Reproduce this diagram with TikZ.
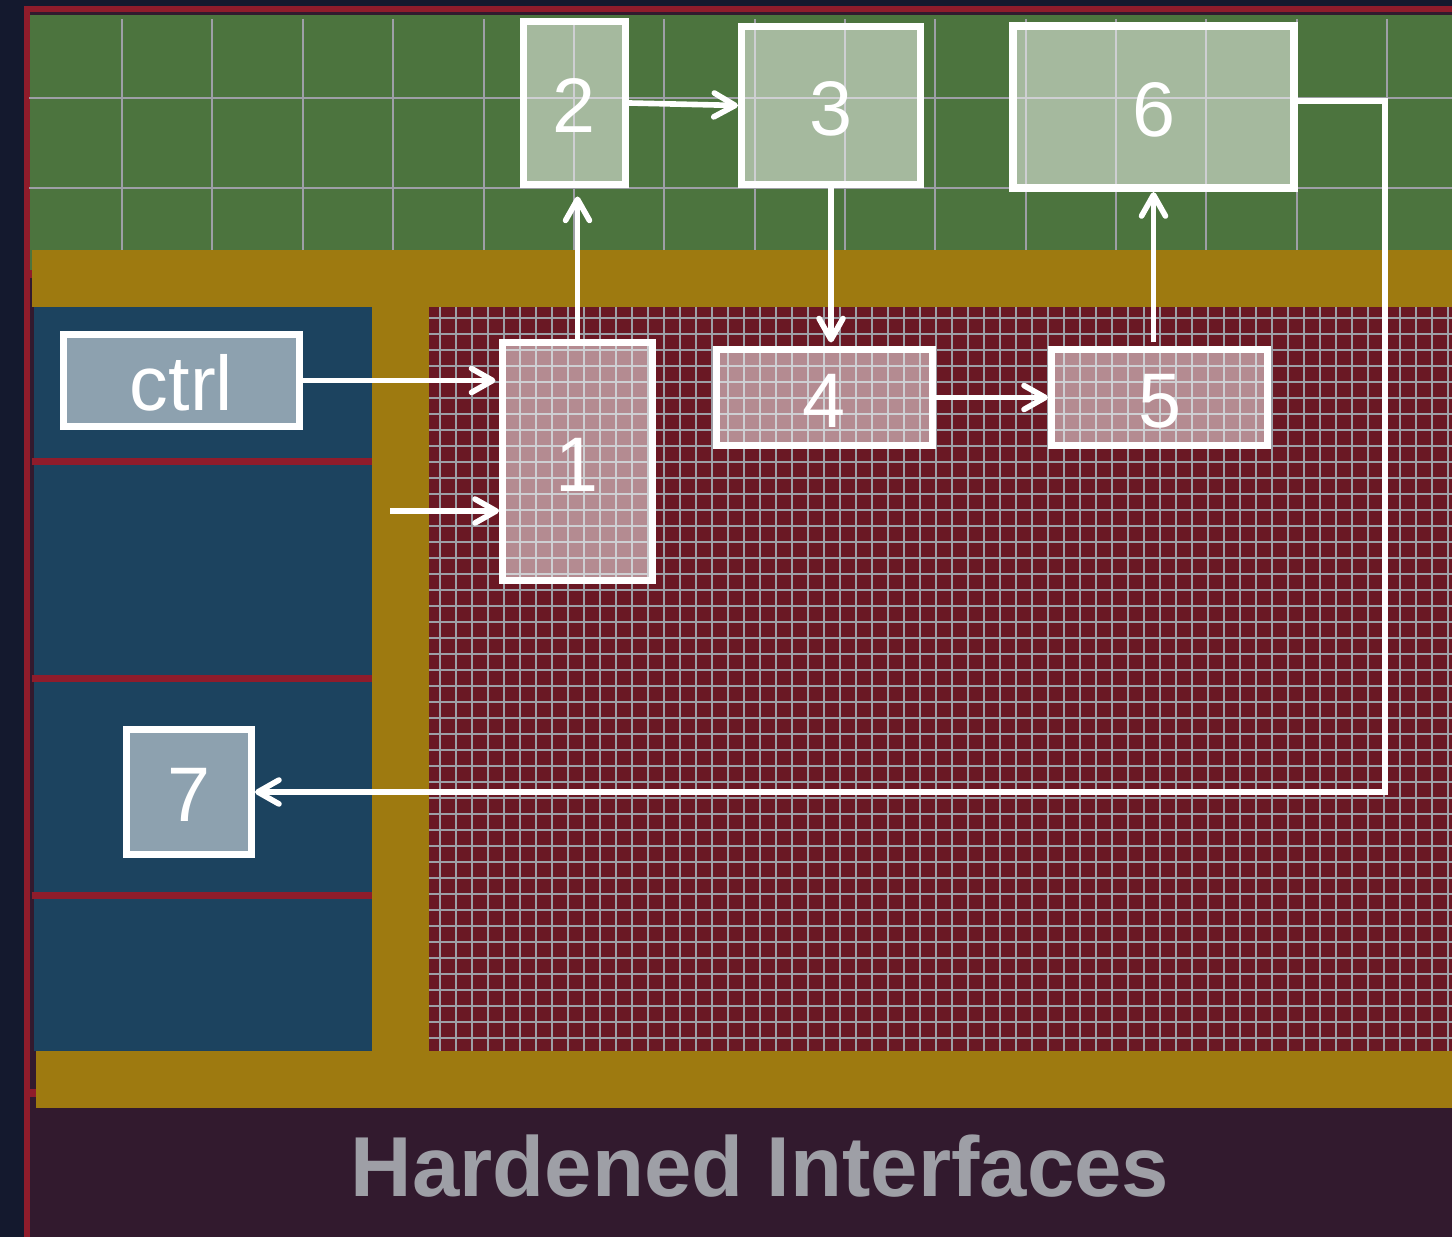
\documentclass[tikz,border=0pt]{standalone}
\usepackage{fontspec}
\usepackage{tikz}
\usetikzlibrary{arrows.meta}
\setmainfont{Liberation Sans}
\definecolor{navy}{HTML}{14192E}
\definecolor{framered}{HTML}{8F1C2B}
\definecolor{plum}{HTML}{321A2E}
\definecolor{fieldgreen}{HTML}{4C743E}
\definecolor{gold}{HTML}{9E7A10}
\definecolor{ioblue}{HTML}{1C435F}
\definecolor{corered}{HTML}{6A1824}
\definecolor{gridgray}{HTML}{9E9FA6}

\begin{document}
\begin{tikzpicture}[
                x=0.01cm,
                y=-0.01cm,
                >={Straight Barb[length=6pt,width=6.8pt,round]},
                block/.style={
                    draw=white,
                    line width=2pt,
                    fill=white,
                    fill opacity=0.5,
                    text opacity=1,
                    text=white,
                    inner sep=0pt,
                    text height=17pt,
                    text depth=0pt,
                    font=\fontsize{22}{22}\selectfont
                },
                arrow/.style={->, white, line width=1.6pt},
                gridline/.style={gridgray, line width=0.42pt},
                coarseline/.style={gridgray, line width=0.7pt}
            ]
                \useasboundingbox (0,0) rectangle (1452,1237);

                % background
                \fill[navy] (0,0) rectangle (1452,1237);
                \fill[plum] (30,12) rectangle (1452,1237);
                \fill[fieldgreen] (29,15) rectangle (1452,270);
                \fill[framered] (24,6) rectangle (1452,12);
                \fill[framered] (24,6) rectangle (30,1237);
                \fill[framered] (24,270) rectangle (34,278);
                \fill[framered] (24,1089) rectangle (38,1097);
                \fill[gold] (32,250) rectangle (1452,307);
                \fill[gold] (372,307) rectangle (429,1051);
                \fill[gold] (36,1051) rectangle (1452,1108);
                \fill[ioblue] (34,307) rectangle (372,1051);
                \fill[corered] (429,307) rectangle (1452,1051);

                % coarse grid
                \foreach \x in {122,212,303,393,484,574,664,755,845,935,1026,1116,1206,1297,1387}
                    \draw[coarseline] (\x,19) -- (\x,250);
                \foreach \y in {98,188}
                    \draw[coarseline] (29,\y) -- (1452,\y);

                % fine grid
                \foreach \i in {0,...,63}
                    \draw[gridline] (440+16*\i,307) -- (440+16*\i,1051);
                \foreach \i in {0,...,45}
                    \draw[gridline] (429,318+16*\i) -- (1452,318+16*\i);

                % separators
                \foreach \y in {462,678,895}
                    \fill[framered] (32,\y-3.5) rectangle (372,\y+3.5);

                % nodes
                \node[block, minimum width=2.36cm, minimum height=0.92cm] (ctrl) at (181.5,380.5) {ctrl};
                \node[block, minimum width=1.50cm, minimum height=2.38cm] (1) at (577.5,461.5) {1};
                \node[block, minimum width=1.02cm, minimum height=1.63cm] (2) at (574.5,103) {2};
                \node[block, minimum width=1.79cm, minimum height=1.58cm] (3) at (831,105.5) {3};
                \node[block, minimum width=2.16cm, minimum height=0.96cm] (4) at (824.5,397.5) {4};
                \node[block, minimum width=2.16cm, minimum height=0.96cm] (5) at (1159.5,397.5) {5};
                \node[block, line width=2.3pt, minimum width=2.81cm, minimum height=1.62cm] (6) at (1153.5,107) {6};
                \node[block, minimum width=1.25cm, minimum height=1.24cm] (7) at (189,792) {7};
                \node[text=gridgray, inner sep=0pt, font=\fontsize{24.2}{24}\selectfont\bfseries] (title) at (760,1166) {Hardened Interfaces};
                \coordinate (feed) at (390,511);
                \coordinate (turn) at (1385,101);

                % edges
                \draw[arrow, shorten >=1pt] (ctrl.east) -- (ctrl.east -| 1.west);
                \draw[arrow] (feed) -- (feed -| 1.west);
                \draw[arrow, shorten >=2.4pt] (1.north) -- (1.north |- 2.south);
                \draw[arrow] (2.east) -- (3.west);
                \draw[arrow, shorten >=1pt] (3.south) -- (3.south |- 4.north);
                \draw[arrow] (4.east) -- (5.west);
                \draw[arrow, shorten <=1pt] (6.south |- 5.north) -- (6.south);
                \draw[arrow] (6.east |- turn) -- (turn) -- (turn |- 7.east) -- (7.east);
            \end{tikzpicture}
\end{document}
